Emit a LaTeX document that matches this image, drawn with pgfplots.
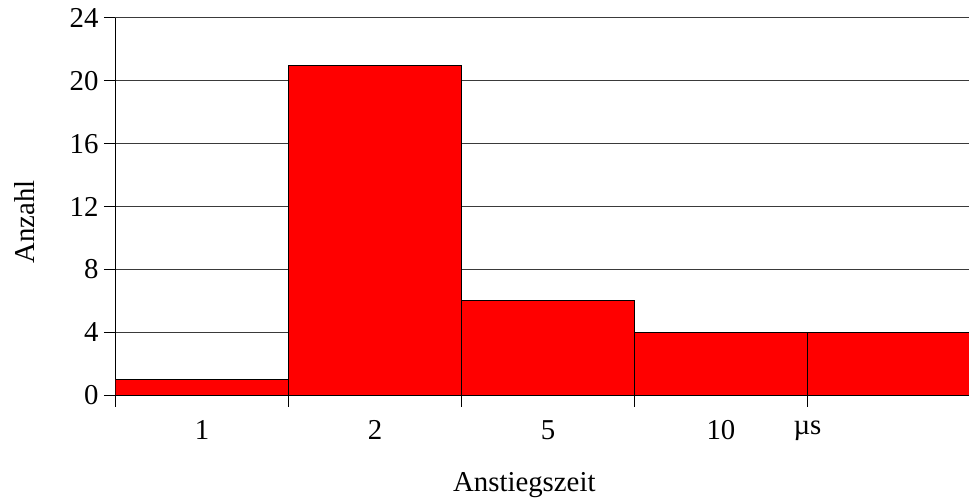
\documentclass[border=0pt]{standalone}
\usepackage{fontspec}
\setmainfont{Liberation Serif}
\usepackage{pgfplots}
\pgfplotsset{compat=1.18}
\definecolor{gridline}{HTML}{3A3A3A}
\definecolor{barred}{HTML}{FF0000}

\begin{document}
\begin{tikzpicture}
\useasboundingbox (0,0) rectangle (484.5pt,251.5pt);
\begin{axis}[
  scale only axis, width=426.75pt, height=188.5pt,
  at={(57.75pt,54pt)}, anchor=south west,
  font=\fontsize{14.4}{17}\selectfont,
  /pgf/number format/assume math mode=true,
  xmin=0, xmax=4.934, ymin=0, ymax=24,
  axis x line*=bottom, axis y line*=left,
  axis line style={draw=black, line width=0.5pt},
  ytick={0,4,...,24},
  ymajorgrids, major grid style={draw=gridline, line width=0.5pt},
  y tick style={draw=black, line width=0.5pt}, tick align=outside, major tick length=5.75pt,
  yticklabel style={xshift=0.8pt},
  xtick={0.5,1.5,2.5,3.5,4}, xticklabels={1,2,5,10,µs},
  x tick style={draw=none},
  xticklabel style={yshift=-3.5pt},
  extra x ticks={0,1,2,3,4}, extra x tick labels={},
  extra x tick style={x tick style={draw=black, line width=0.5pt}, xmajorgrids=false},
  xlabel={Anstiegszeit}, ylabel={Anzahl},
  every axis x label/.style={at={(rel axis cs:0.479,-0.239)}, anchor=center},
  every axis y label/.style={at={(rel axis cs:-0.106,0.459)}, anchor=center, rotate=90},
]
\addplot[ybar interval, fill=barred, draw=black, line width=0.5pt]
  coordinates {(0,1) (1,21) (2,6) (3,4) (4,4) (5,4)};
\end{axis}
\end{tikzpicture}
\end{document}
